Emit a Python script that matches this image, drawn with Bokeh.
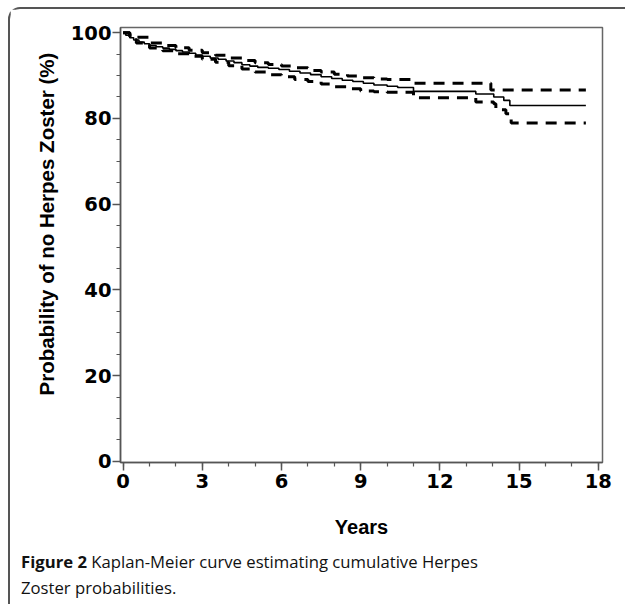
from bokeh.plotting import figure
from bokeh.models import Range1d, FixedTicker, Div, Title
from bokeh.layouts import column
from bokeh.embed import file_html
from bokeh.resources import INLINE

# Kaplan-Meier estimate (years, % without herpes zoster)
km_years = [0, 0.1, 0.25, 0.4, 0.6, 0.8, 1.0, 1.25, 1.5, 1.75, 2.0, 2.25, 2.5, 2.75,
            3.0, 3.3, 3.6, 3.9, 4.2, 4.5, 4.8, 5.1, 5.5, 5.9, 6.3, 6.7, 7.1, 7.5,
            7.9, 8.3, 8.7, 9.1, 9.5, 10.0, 10.4, 11.0, 13.36, 14.04, 14.42, 14.65, 17.53]
km_surv = [100, 99.4, 98.8, 98.3, 97.8, 97.4, 97.0, 96.7, 96.4, 96.1, 95.8, 95.5, 95.2, 94.8,
           94.5, 94.1, 93.8, 93.4, 93.0, 92.5, 92.2, 91.9, 91.7, 91.4, 91.0, 90.6, 90.2, 89.7,
           89.3, 88.9, 88.6, 88.2, 87.8, 87.5, 87.2, 86.3, 85.7, 85.0, 84.2, 83.0, 83.0]

# Upper 95% confidence limit
upper_years = [0, 0.25, 0.5, 1.0, 1.5, 2.0, 2.5, 3.0, 3.5, 4.0, 4.5, 5.0, 5.5, 6.0, 6.5,
               7.0, 7.5, 8.0, 8.5, 9.0, 9.5, 10.0, 11.0, 13.93, 17.53]
upper_surv = [100, 99.4, 98.9, 97.6, 97.0, 96.5, 95.9, 95.3, 94.7, 94.1, 93.5, 93.0, 92.6, 92.2, 91.8,
              91.2, 90.8, 90.3, 89.9, 89.5, 89.2, 89.1, 88.2, 86.6, 86.6]

# Lower 95% confidence limit
lower_years = [0, 0.25, 0.5, 1.0, 1.5, 2.0, 2.5, 3.0, 3.5, 4.0, 4.5, 5.0, 5.5, 6.0, 6.5,
               7.0, 7.5, 8.0, 8.5, 9.0, 9.5, 10.0, 11.0, 13.36, 14.04, 14.12, 14.5, 14.7, 17.53]
lower_surv = [100, 98.4, 97.6, 96.4, 95.8, 95.1, 94.5, 93.8, 93.1, 92.3, 91.5, 90.8, 90.2, 89.7, 89.1,
              88.6, 88.0, 87.4, 86.9, 86.4, 86.2, 86.1, 84.8, 83.8, 83.4, 82.0, 81.1, 78.9, 78.9]

x_major = [0, 3, 6, 9, 12, 15, 18]
x_minor = list(range(0, 19))
y_major = [0, 20, 40, 60, 80, 100]
y_minor = list(range(0, 101, 5))

p = figure(width=615, height=535, output_backend="svg", toolbar_location=None,
           x_range=Range1d(-0.1, 18.16), y_range=Range1d(-0.25, 101.2),
           min_border_left=110, min_border_right=23, min_border_top=18, min_border_bottom=82,
           background_fill_color="white", border_fill_color="white")
p.xgrid.visible = False
p.ygrid.visible = False
p.outline_line_color = "#666666"
p.outline_line_width = 1.5

p.step(upper_years, upper_surv, mode="after", line_color="black", line_width=3, line_dash="11 8")
p.step(lower_years, lower_surv, mode="after", line_color="black", line_width=3, line_dash="11 8")
p.step(km_years, km_surv, mode="after", line_color="black", line_width=1.6)

for ax in (p.xaxis, p.yaxis):
    ax.axis_line_color = "#555555"
    ax.axis_line_width = 1.5
    ax.major_tick_line_color = "#555555"
    ax.minor_tick_line_color = "#555555"
    ax.major_tick_line_width = 1.5
    ax.minor_tick_line_width = 1.2
    ax.major_tick_in = 0
    ax.major_tick_out = 8
    ax.minor_tick_in = 0
    ax.minor_tick_out = 4
    ax.major_label_text_font = "DejaVu Sans"
    ax.major_label_text_font_style = "bold"
    ax.major_label_text_font_size = "19.5px"
    ax.major_label_text_color = "black"

p.xaxis.ticker = FixedTicker(ticks=x_major, minor_ticks=x_minor)
p.yaxis.ticker = FixedTicker(ticks=y_major, minor_ticks=y_minor)
p.xaxis.major_label_standoff = 3
p.yaxis.major_label_standoff = 1

p.xaxis.axis_label = "Years"
p.xaxis.axis_label_text_font = "Liberation Sans"
p.xaxis.axis_label_text_font_style = "bold"
p.xaxis.axis_label_text_font_size = "20px"
p.xaxis.axis_label_standoff = 25
p.xaxis.axis_label_text_color = "black"

ytitle = Title(text="Probability of no Herpes Zoster (%)", align="left", offset=67,
               standoff=20, text_font="Liberation Sans", text_font_style="bold",
               text_font_size="20.5px", text_color="black")
p.add_layout(ytitle, "left")

cap = Div(text='<b>Figure 2</b> Kaplan-Meier curve estimating cumulative Herpes<br>Zoster probabilities.',
          width=615, height=56,
          styles={"font-family": "Open Sans", "font-size": "16.7px", "line-height": "26px",
                  "color": "#111111", "padding-left": "6px", "padding-top": "0px"})

layout = column(p, cap, spacing=0,
                styles={"border-left": "2px solid #555555", "border-top": "2px solid #555555",
                        "border-top-left-radius": "12px", "margin-left": "8px", "margin-top": "7px"})

open("out.html", "w").write(file_html(layout, INLINE))
